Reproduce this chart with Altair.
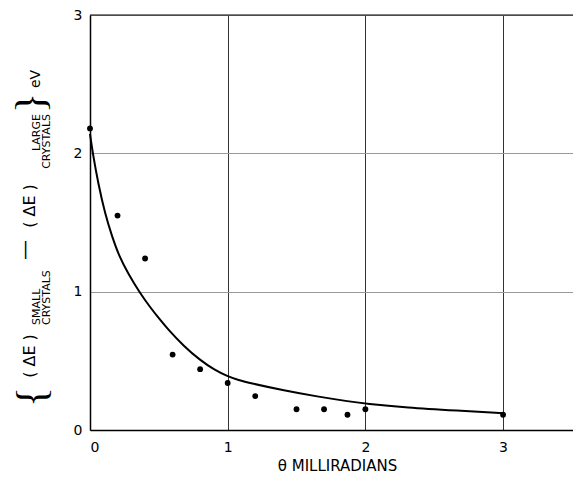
import altair as alt
import pandas as pd

FONT = "DejaVu Sans"
BRACE_FONT = "Liberation Serif"

# measured data points
pts_x = [0.0, 0.2, 0.4, 0.6, 0.8, 1.0, 1.2, 1.5, 1.7, 1.87, 2.0, 3.0]
pts_y = [2.18, 1.55, 1.24, 0.545, 0.44, 0.34, 0.245, 0.15, 0.15, 0.11, 0.15, 0.11]

# fitted curve
curve_x = [0.0, 0.02, 0.06, 0.11, 0.16, 0.21, 0.28, 0.36, 0.44, 0.50, 0.56,
           0.68, 0.80, 0.90, 1.0, 1.08, 1.16, 1.41, 1.65, 1.89, 2.0, 2.3, 2.67, 3.0]
curve_y = [2.14, 2.0, 1.78, 1.56, 1.40, 1.26, 1.125, 0.995, 0.883, 0.808, 0.735,
           0.607, 0.505, 0.437, 0.387, 0.36, 0.34, 0.285, 0.242, 0.205, 0.19, 0.162, 0.14, 0.121]

tick_vals = [0, 1, 2, 3]

X_DOMAIN = [0, 3.508]
Y_DOMAIN = [0, 3]

pts = pd.DataFrame({"x": pts_x, "y": pts_y})
curve = pd.DataFrame({"x": curve_x, "y": curve_y})

xscale = alt.Scale(domain=X_DOMAIN, nice=False, zero=False)
yscale = alt.Scale(domain=Y_DOMAIN, nice=False)

xaxis = alt.Axis(values=tick_vals, grid=True, gridColor="#333333", gridWidth=1,
                 domainColor="black", domainWidth=1.5, ticks=False,
                 labelFont=FONT, labelFontSize=14, labelColor="black", labelPadding=10,
                 titleFont=FONT, titleFontSize=15, titleFontWeight="normal",
                 titleColor="black", titleX=247, titleY=28, titleAlign="center",
                 titleBaseline="top", format="d")
yaxis = alt.Axis(values=tick_vals, grid=True, gridColor="#999999", gridWidth=1,
                 domainColor="black", domainWidth=1.5, ticks=False,
                 labelFont=FONT, labelFontSize=14, labelColor="black", labelPadding=8,
                 format="d")

points = alt.Chart(pts).mark_circle(size=34, color="black", opacity=1).encode(
    x=alt.X("x:Q", scale=xscale, axis=xaxis, title="θ  MILLIRADIANS"),
    y=alt.Y("y:Q", scale=yscale, axis=yaxis, title=""),
)

line = alt.Chart(curve).mark_line(color="black", strokeWidth=2, interpolate="basis").encode(
    x=alt.X("x:Q", scale=xscale),
    y=alt.Y("y:Q", scale=yscale),
)

top = alt.Chart(pd.DataFrame({"y": [3]})).mark_rule(color="black", strokeWidth=1.2).encode(
    y=alt.Y("y:Q", scale=yscale)
)

# plot origin on the page is at (90, 15)
OX, OY = 90, 15


def lab(text, px, py, size, align="center", font=FONT):
    return alt.Chart(pd.DataFrame({"t": [text]})).mark_text(
        angle=270, align=align, baseline="middle", fontSize=size, font=font, color="black"
    ).encode(text="t:N", x=alt.value(px - OX), y=alt.value(py - OY))


labels = [
    lab("{", 32, 397, 42, font=BRACE_FONT),
    lab("( ΔE )", 30, 356, 16),
    lab("SMALL", 37, 325, 11, "left"),
    lab("CRYSTALS", 47, 325, 11, "left"),
    lab("—", 25, 250, 20),
    lab("( ΔE )", 30, 206, 16),
    lab("LARGE", 37, 114, 11, "right"),
    lab("CRYSTALS", 47, 114, 11, "right"),
    lab("}", 31, 103, 42, font=BRACE_FONT),
    lab("eV", 36, 79, 14),
]

chart = alt.layer(top, line, points, *labels).properties(
    width=483,
    height=415,
    autosize=alt.AutoSizeParams(type="none"),
    padding={"left": 82, "top": 7, "right": 0, "bottom": 44},
).configure_view(stroke=None)

chart.save("out.html", embed_options={"renderer": "svg", "actions": False})
